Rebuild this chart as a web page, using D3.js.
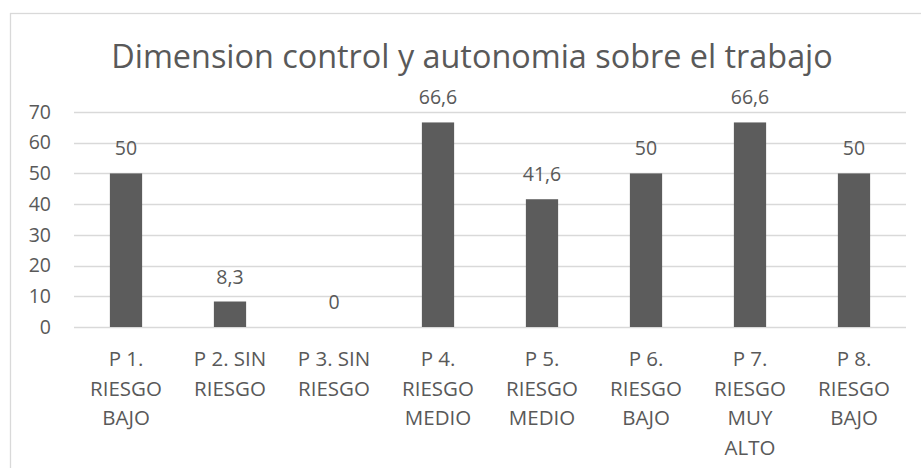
<!DOCTYPE html>
<html>
<head>
<meta charset="utf-8">
<script src="https://cdn.jsdelivr.net/npm/d3@7"></script>
<style>
  html, body { margin: 0; padding: 0; background: #fff; }
  svg { display: block; font-family: "Open Sans", sans-serif; }
</style>
</head>
<body>
<div id="chart"></div>
<script>
// data
const title = "Dimension control y autonomia sobre el trabajo";
const categories = ["P1", "P2", "P3", "P4", "P5", "P6", "P7", "P8"];
const categoryLines = [
  ["P 1.", "RIESGO", "BAJO"],
  ["P 2. SIN", "RIESGO"],
  ["P 3. SIN", "RIESGO"],
  ["P 4.", "RIESGO", "MEDIO"],
  ["P 5.", "RIESGO", "MEDIO"],
  ["P 6.", "RIESGO", "BAJO"],
  ["P 7.", "RIESGO", "MUY", "ALTO"],
  ["P 8.", "RIESGO", "BAJO"]
];
const values = [50, 8.3, 0, 66.6, 41.6, 50, 66.6, 50];
const yTicks = [0, 10, 20, 30, 40, 50, 60, 70];

const width = 921, height = 468;
const textColor = "#595959";
const gridColor = "#d9d9d9";
const barColor = "#5c5c5c";

const svg = d3.select("#chart").append("svg")
  .attr("width", width)
  .attr("height", height);

// chart frame (runs off the right and bottom edges)
svg.append("rect")
  .attr("x", 10.5).attr("y", 13.5)
  .attr("width", 940).attr("height", 480)
  .attr("fill", "#fff")
  .attr("stroke", gridColor)
  .attr("stroke-width", 1.3);

const x = d3.scaleBand()
  .domain(categories)
  .range([74, 906])
  .paddingInner(0.69)
  .paddingOuter(0.345);

const y = d3.scaleLinear()
  .domain([0, 70])
  .range([327, 112]);

// ── gridlines ──
svg.append("g")
  .selectAll("line")
  .data(yTicks)
  .join("line")
  .attr("x1", 74).attr("x2", 906)
  .attr("y1", (d) => Math.round(y(d)) + 0.5)
  .attr("y2", (d) => Math.round(y(d)) + 0.5)
  .attr("stroke", gridColor)
  .attr("stroke-width", 1.5);

// ── y axis labels ──
const yAxis = svg.append("g")
  .attr("transform", "translate(74,0)")
  .call(d3.axisLeft(y).tickValues(yTicks).tickSize(0).tickPadding(23));
yAxis.select(".domain").remove();
yAxis.selectAll("text")
  .attr("fill", textColor)
  .attr("font-size", 19.5)
  .attr("font-family", "Open Sans, sans-serif");

// ── bars ──
svg.append("g")
  .selectAll("rect")
  .data(values)
  .join("rect")
  .attr("x", (d, i) => x(categories[i]))
  .attr("width", x.bandwidth())
  .attr("y", (d) => y(d))
  .attr("height", (d) => y(0) - y(d))
  .attr("fill", barColor);

// ── value labels ──
svg.append("g")
  .selectAll("text")
  .data(values)
  .join("text")
  .attr("x", (d, i) => x(categories[i]) + x.bandwidth() / 2)
  .attr("y", (d) => y(d) - 18)
  .attr("text-anchor", "middle")
  .attr("fill", textColor)
  .attr("font-size", 19.5)
  .text((d) => String(d).replace(".", ","));

// ── category labels (wrapped) ──
const catG = svg.append("g")
  .selectAll("text")
  .data(categoryLines)
  .join("text")
  .attr("text-anchor", "middle")
  .attr("fill", textColor)
  .attr("font-size", 20.5)
  .attr("transform", (d, i) => `translate(${x(categories[i]) + x.bandwidth() / 2},0)`);
catG.selectAll("tspan")
  .data((d) => d)
  .join("tspan")
  .attr("x", 0)
  .attr("y", (d, j) => 366 + j * 29.6)
  .text((d) => d);

// ── title ──
const t = svg.append("text")
  .attr("x", 472)
  .attr("y", 68)
  .attr("text-anchor", "middle")
  .attr("fill", textColor)
  .attr("font-size", 32)
  .text(title);
const tw = t.node().getComputedTextLength();
t.attr("font-size", 32 * 722 / tw);
</script>
</body>
</html>
